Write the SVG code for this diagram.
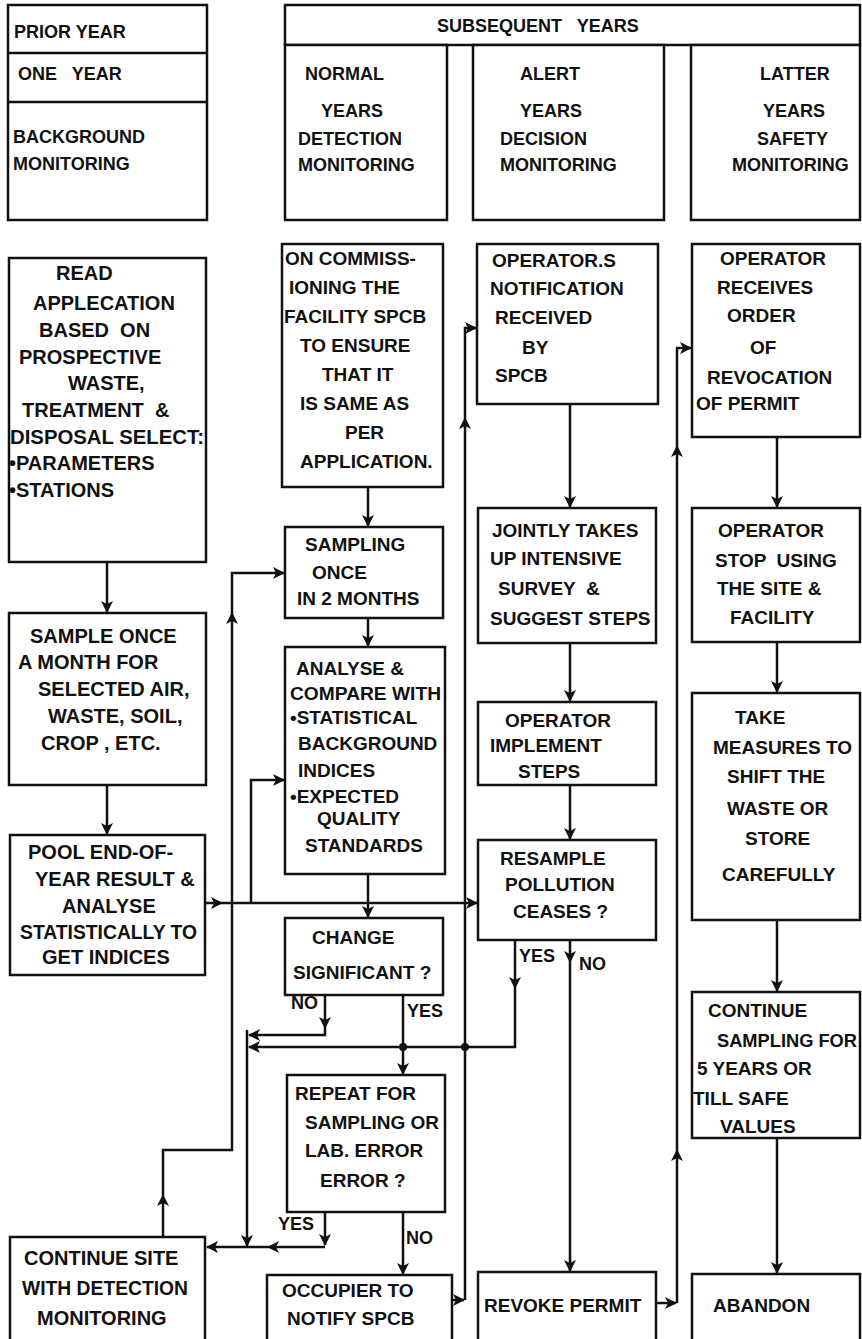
<svg xmlns="http://www.w3.org/2000/svg" width="862" height="1339" viewBox="0 0 862 1339">
<style>
.b{fill:#fff;stroke:#111;stroke-width:2.5}
.l{fill:none;stroke:#111;stroke-width:2.5}
.c{fill:none;stroke:#111;stroke-width:2.5;marker-end:url(#ah)}
.t{font-family:"Liberation Sans",Arial,sans-serif;font-weight:bold;font-size:19px;fill:#111;white-space:pre}
.h{font-size:18px}
.w{font-size:20px}
.d{fill:#111}
</style>
<defs>
<marker id="ah" viewBox="0 0 12 12" refX="11" refY="6" markerWidth="12" markerHeight="12" markerUnits="userSpaceOnUse" orient="auto">
<path d="M0,0 L12,6 L0,12 L3,6 z" fill="#111"/>
</marker>
</defs>
<rect width="862" height="1339" fill="#fff"/>

<g id="hdr-prior">
<rect class="b" x="8" y="5" width="199" height="215"/>
<path class="l" d="M8,53 H207 M8,102 H207"/>
<text class="t h" x="14" y="38">PRIOR YEAR</text>
<text class="t h" x="18" y="80">ONE   YEAR</text>
<text class="t h" x="13" y="143">BACKGROUND</text>
<text class="t h" x="13" y="170">MONITORING</text>
</g>
<g id="hdr-subsequent">
<rect class="b" x="285" y="5" width="575" height="40"/>
<text class="t h" x="437" y="32">SUBSEQUENT   YEARS</text>
</g>
<g id="hdr-normal">
<rect class="b" x="285" y="45" width="162" height="175"/>
<text class="t h" x="305" y="80">NORMAL</text>
<text class="t h" x="321" y="117">YEARS</text>
<text class="t h" x="298" y="145">DETECTION</text>
<text class="t h" x="298" y="171">MONITORING</text>
</g>
<g id="hdr-alert">
<rect class="b" x="473" y="45" width="191" height="175"/>
<text class="t h" x="520" y="80">ALERT</text>
<text class="t h" x="520" y="117">YEARS</text>
<text class="t h" x="500" y="145">DECISION</text>
<text class="t h" x="500" y="171">MONITORING</text>
</g>
<g id="hdr-latter">
<rect class="b" x="691" y="45" width="169" height="175"/>
<text class="t h" x="760" y="80">LATTER</text>
<text class="t h" x="763" y="117">YEARS</text>
<text class="t h" x="757" y="145">SAFETY</text>
<text class="t h" x="732" y="171">MONITORING</text>
</g>

<g id="connectors">
<path class="c" d="M107,562 V612"/>
<path class="c" d="M107,785 V834"/>
<path class="c" d="M205,903 H222"/>
<path class="c" d="M222,903 H477"/>
<path class="c" d="M251,903 V780 H284"/>
<path class="c" d="M163,1237 V1195"/>
<path class="c" d="M163,1195 V1150 H232 V613"/>
<path class="c" d="M232,613 V573 H284"/>
<path class="c" d="M368,487 V526"/>
<path class="c" d="M368,618 V646"/>
<path class="c" d="M368,874 V917"/>
<path class="c" d="M325,995 V1028"/>
<path class="c" d="M325,1028 V1035 H249"/>
<path class="c" d="M403,995 V1074"/>
<path class="c" d="M515,940 V988"/>
<path class="c" d="M515,988 V1047 H249"/>
<path class="c" d="M247,1030 V1246"/>
<path class="c" d="M325,1212 V1245"/>
<path class="c" d="M325,1247 H268"/>
<path class="c" d="M268,1247 H207"/>
<path class="c" d="M403,1212 V1274"/>
<path class="c" d="M452,1300 H464"/>
<path class="c" d="M465,1300 V418"/>
<path class="c" d="M465,418 V328 H476"/>
<path class="c" d="M570,404 V507"/>
<path class="c" d="M570,643 V701"/>
<path class="c" d="M570,785 V839"/>
<path class="c" d="M570,940 V962"/>
<path class="c" d="M570,962 V1271"/>
<path class="c" d="M656,1303 H676"/>
<path class="c" d="M677,1303 V1150"/>
<path class="c" d="M677,1150 V446"/>
<path class="c" d="M677,446 V348 H691"/>
<path class="c" d="M777,437 V507"/>
<path class="c" d="M777,642 V692"/>
<path class="c" d="M777,920 V991"/>
<path class="c" d="M777,1138 V1273"/>
<circle class="d" cx="403" cy="1047" r="4"/>
<circle class="d" cx="465" cy="1047" r="4"/>
<text class="t h" x="291" y="1009">NO</text>
<text class="t h" x="407" y="1017">YES</text>
<text class="t h" x="278" y="1230">YES</text>
<text class="t h" x="406" y="1244">NO</text>
<text class="t h" x="519" y="962">YES</text>
<text class="t h" x="579" y="970">NO</text>
</g>

<g id="read">
<rect class="b" x="9" y="258" width="197" height="304"/>
<text class="t w" x="56" y="280">READ</text>
<text class="t w" x="33" y="310">APPLECATION</text>
<text class="t w" x="39" y="337">BASED  ON</text>
<text class="t w" x="19" y="364">PROSPECTIVE</text>
<text class="t w" x="68" y="390">WASTE,</text>
<text class="t w" x="22" y="417">TREATMENT  &amp;</text>
<text class="t w" x="10" y="444" textLength="194" lengthAdjust="spacingAndGlyphs">DISPOSAL SELECT:</text>
<text class="t w" x="9" y="470">•PARAMETERS</text>
<text class="t w" x="9" y="497">•STATIONS</text>
</g>
<g id="sample-month">
<rect class="b" x="9" y="613" width="197" height="172"/>
<text class="t w" x="30" y="643">SAMPLE ONCE</text>
<text class="t w" x="18" y="669">A MONTH FOR</text>
<text class="t w" x="38" y="696">SELECTED AIR,</text>
<text class="t w" x="48" y="723">WASTE, SOIL,</text>
<text class="t w" x="41" y="750">CROP , ETC.</text>
</g>
<g id="pool">
<rect class="b" x="10" y="835" width="195" height="140"/>
<text class="t w" x="28" y="859">POOL END-OF-</text>
<text class="t w" x="35" y="886">YEAR RESULT &amp;</text>
<text class="t w" x="62" y="913">ANALYSE</text>
<text class="t w" x="20" y="939" textLength="177" lengthAdjust="spacingAndGlyphs">STATISTICALLY TO</text>
<text class="t w" x="42" y="964">GET INDICES</text>
</g>
<g id="continue-site">
<rect class="b" x="10" y="1237" width="195" height="110"/>
<text class="t w" x="24" y="1265">CONTINUE SITE</text>
<text class="t w" x="22" y="1295" textLength="166" lengthAdjust="spacingAndGlyphs">WITH DETECTION</text>
<text class="t w" x="37" y="1325">MONITORING</text>
</g>

<g id="commissioning">
<rect class="b" x="282" y="244" width="161" height="243"/>
<text class="t" x="285" y="265">ON COMMISS-</text>
<text class="t" x="289" y="294">IONING THE</text>
<text class="t" x="284" y="323">FACILITY SPCB</text>
<text class="t" x="300" y="352">TO ENSURE</text>
<text class="t" x="322" y="381">THAT IT</text>
<text class="t" x="300" y="410">IS SAME AS</text>
<text class="t" x="345" y="439">PER</text>
<text class="t" x="300" y="468">APPLICATION.</text>
</g>
<g id="sampling">
<rect class="b" x="285" y="527" width="158" height="91"/>
<text class="t" x="305" y="551">SAMPLING</text>
<text class="t" x="312" y="579">ONCE</text>
<text class="t" x="297" y="605">IN 2 MONTHS</text>
</g>
<g id="analyse">
<rect class="b" x="285" y="647" width="160" height="227"/>
<text class="t" x="296" y="675">ANALYSE &amp;</text>
<text class="t" x="290" y="700" textLength="151" lengthAdjust="spacingAndGlyphs">COMPARE WITH</text>
<text class="t" x="290" y="724">•STATISTICAL</text>
<text class="t" x="298" y="750">BACKGROUND</text>
<text class="t" x="298" y="777">INDICES</text>
<text class="t" x="290" y="803">•EXPECTED</text>
<text class="t" x="317" y="825">QUALITY</text>
<text class="t" x="305" y="852">STANDARDS</text>
</g>
<g id="change">
<rect class="b" x="285" y="918" width="158" height="77"/>
<text class="t" x="312" y="944">CHANGE</text>
<text class="t" x="293" y="979">SIGNIFICANT ?</text>
</g>
<g id="repeat">
<rect class="b" x="287" y="1075" width="158" height="137"/>
<text class="t" x="295" y="1100">REPEAT FOR</text>
<text class="t" x="305" y="1129">SAMPLING OR</text>
<text class="t" x="305" y="1157">LAB. ERROR</text>
<text class="t" x="320" y="1187">ERROR ?</text>
</g>
<g id="occupier">
<rect class="b" x="267" y="1275" width="185" height="72"/>
<text class="t" x="282" y="1297">OCCUPIER TO</text>
<text class="t" x="287" y="1325">NOTIFY SPCB</text>
</g>

<g id="notification">
<rect class="b" x="477" y="244" width="181" height="160"/>
<text class="t" x="492" y="267">OPERATOR.S</text>
<text class="t" x="490" y="295">NOTIFICATION</text>
<text class="t" x="495" y="324">RECEIVED</text>
<text class="t" x="522" y="354">BY</text>
<text class="t" x="495" y="382">SPCB</text>
</g>
<g id="jointly">
<rect class="b" x="478" y="508" width="178" height="135"/>
<text class="t" x="492" y="537">JOINTLY TAKES</text>
<text class="t" x="490" y="565">UP INTENSIVE</text>
<text class="t" x="498" y="595">SURVEY  &amp;</text>
<text class="t" x="490" y="625">SUGGEST STEPS</text>
</g>
<g id="implement">
<rect class="b" x="478" y="702" width="178" height="83"/>
<text class="t" x="505" y="727">OPERATOR</text>
<text class="t" x="490" y="752">IMPLEMENT</text>
<text class="t" x="518" y="778">STEPS</text>
</g>
<g id="resample">
<rect class="b" x="478" y="840" width="178" height="100"/>
<text class="t" x="500" y="865">RESAMPLE</text>
<text class="t" x="505" y="891">POLLUTION</text>
<text class="t" x="513" y="918">CEASES ?</text>
</g>
<g id="revoke">
<rect class="b" x="478" y="1272" width="178" height="75"/>
<text class="t" x="484" y="1312">REVOKE PERMIT</text>
</g>

<g id="receives">
<rect class="b" x="692" y="244" width="168" height="193"/>
<text class="t" x="720" y="265">OPERATOR</text>
<text class="t" x="717" y="294">RECEIVES</text>
<text class="t" x="727" y="322">ORDER</text>
<text class="t" x="750" y="354">OF</text>
<text class="t" x="707" y="384">REVOCATION</text>
<text class="t" x="696" y="410">OF PERMIT</text>
</g>
<g id="stop">
<rect class="b" x="692" y="508" width="168" height="134"/>
<text class="t" x="718" y="537">OPERATOR</text>
<text class="t" x="715" y="567">STOP  USING</text>
<text class="t" x="717" y="595">THE SITE &amp;</text>
<text class="t" x="730" y="624">FACILITY</text>
</g>
<g id="measures">
<rect class="b" x="692" y="693" width="168" height="227"/>
<text class="t" x="735" y="724">TAKE</text>
<text class="t" x="713" y="754">MEASURES TO</text>
<text class="t" x="727" y="783">SHIFT THE</text>
<text class="t" x="727" y="815">WASTE OR</text>
<text class="t" x="745" y="845">STORE</text>
<text class="t" x="722" y="881">CAREFULLY</text>
</g>
<g id="continue-sampling">
<rect class="b" x="692" y="992" width="168" height="146"/>
<text class="t" x="708" y="1017">CONTINUE</text>
<text class="t" x="717" y="1047" textLength="140" lengthAdjust="spacingAndGlyphs">SAMPLING FOR</text>
<text class="t" x="697" y="1075">5 YEARS OR</text>
<text class="t" x="693" y="1105">TILL SAFE</text>
<text class="t" x="720" y="1133">VALUES</text>
</g>
<g id="abandon">
<rect class="b" x="692" y="1274" width="168" height="73"/>
<text class="t" x="713" y="1312">ABANDON</text>
</g>
</svg>
